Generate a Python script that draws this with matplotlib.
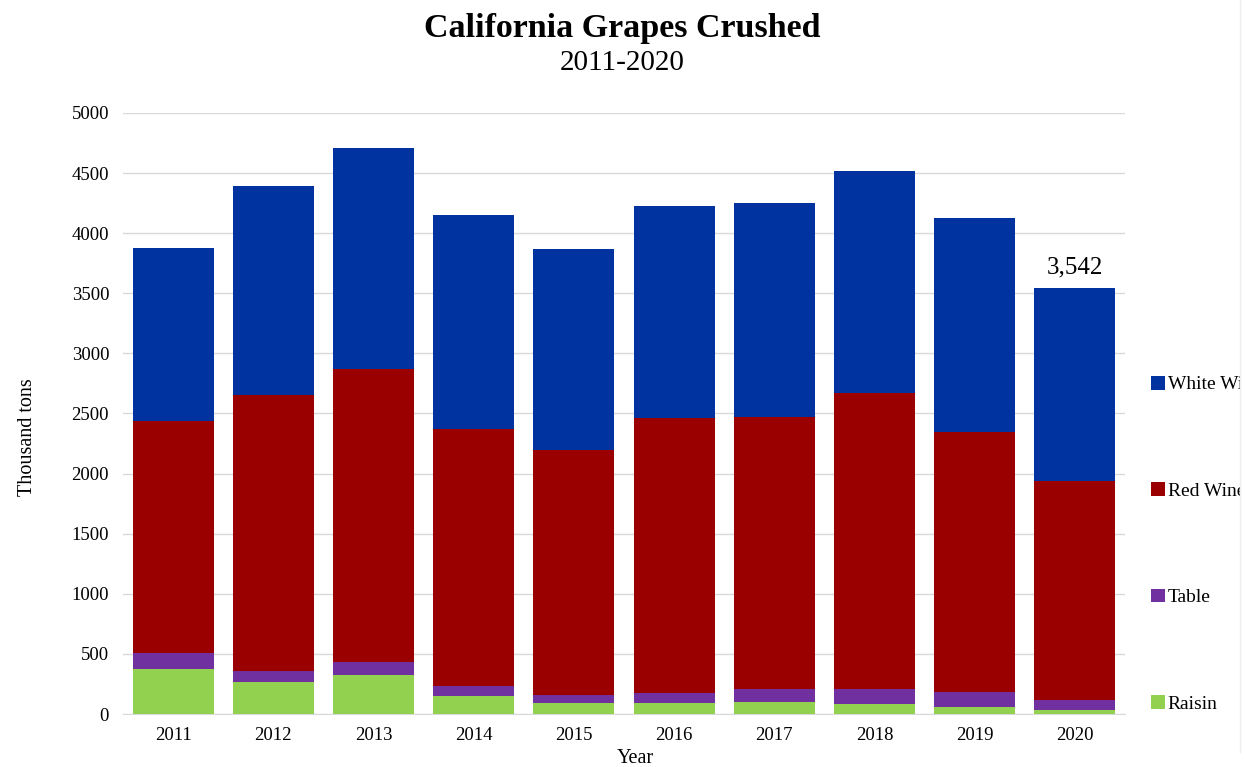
import matplotlib.pyplot as plt
import numpy as np
from matplotlib.patches import Rectangle

years = ['2011', '2012', '2013', '2014', '2015', '2016', '2017', '2018', '2019', '2020']
raisin = [371, 270, 328, 148, 90, 90, 97, 83, 61, 36]
table = [137, 87, 108, 86, 65, 83, 108, 122, 119, 79]
red_wine = [1927, 2294, 2431, 2140, 2039, 2287, 2263, 2465, 2165, 1823]
white_wine = [1445, 1740, 1841, 1776, 1678, 1762, 1779, 1851, 1780, 1604]

plt.rcParams['font.family'] = ['Liberation Serif', 'DejaVu Serif']

fig = plt.figure(figsize=(12.45, 7.67), dpi=100)
ax = fig.add_axes([0.0988, 0.0691, 0.8048, 0.7836])

x = np.arange(len(years))
w = 0.81
b1 = np.array(raisin)
b2 = b1 + np.array(table)
b3 = b2 + np.array(red_wine)

p_raisin = ax.bar(x, raisin, w, color='#92D050', label='Raisin', zorder=3)
p_table = ax.bar(x, table, w, bottom=b1, color='#7030A0', label='Table', zorder=3)
p_red = ax.bar(x, red_wine, w, bottom=b2, color='#9B0000', label='Red Wine', zorder=3)
p_white = ax.bar(x, white_wine, w, bottom=b3, color='#0033A0', label='White Wine', zorder=3)

total_2020 = b3[-1] + white_wine[-1]
ax.text(x[-1], total_2020 + 170, '{:,}'.format(int(total_2020)), ha='center', va='center', fontsize=18)

ax.set_xlim(-0.5, 9.5)
ax.set_ylim(0, 5000)
ax.set_yticks(np.arange(0, 5001, 500))
ax.set_xticks(x)
ax.set_xticklabels(years)
ax.tick_params(length=0, labelsize=13.5)
ax.tick_params(axis='y', pad=10)
ax.tick_params(axis='x', pad=9)
ax.grid(axis='y', color='#d9d9d9', linewidth=1, zorder=0)
for s in ['top', 'right', 'left']:
    ax.spines[s].set_visible(False)
ax.spines['bottom'].set_color('#d9d9d9')

ax.set_xlabel('Year', fontsize=14.5)
ax.set_ylabel('Thousand tons', fontsize=14.5)
ax.xaxis.set_label_coords(0.511, -0.059)
ax.yaxis.set_label_coords(-0.086, 0.461)

fig.text(0.5, 0.963, 'California Grapes Crushed', ha='center', va='center', fontsize=24.5, fontweight='bold')
fig.text(0.5, 0.918, '2011-2020', ha='center', va='center', fontsize=21)

leg = ax.legend(handles=[p_white, p_red, p_table, p_raisin], loc='upper left',
                bbox_to_anchor=(1.016, 0.579), frameon=False, fontsize=14, borderpad=0,
                labelspacing=4.56, handlelength=0.72, handleheight=0.72, handletextpad=0.15)

# the legend is cut off at the right edge in the original
fig.patches.append(Rectangle((1240 / 1245, 0), 1, 1, transform=fig.transFigure,
                             facecolor='white', edgecolor='none', zorder=10))
fig.add_artist(plt.Line2D([1240 / 1245, 1240 / 1245], [0.02, 1], transform=fig.transFigure,
                          color='#eeeeee', linewidth=1, zorder=11))

fig.savefig('out.png', dpi=100)
